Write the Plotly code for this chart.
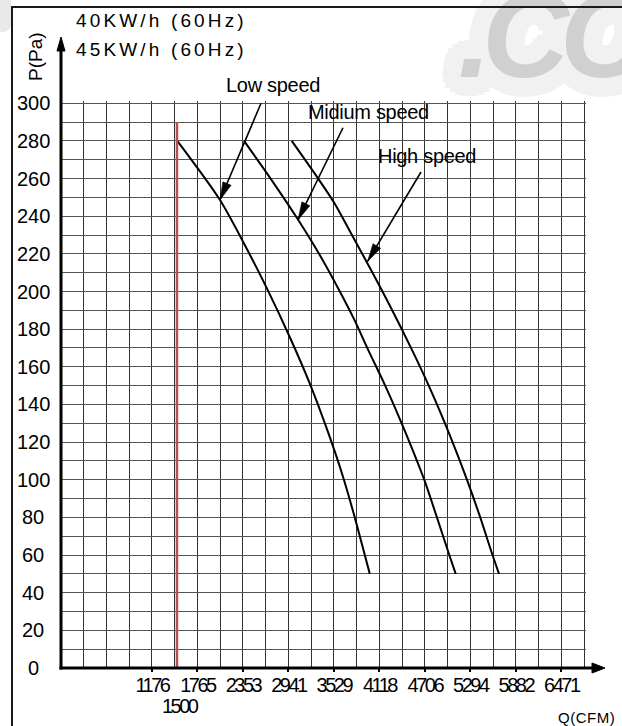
import math
import plotly.graph_objects as go

# ---- fan curves: static pressure P (Pa) against air flow Q (CFM) ----
low_q = [1504, 2056, 2377, 2660, 2964, 3226, 3412, 3557, 3660, 3798, 3929, 3994]
low_p = [280, 248.6, 224.7, 201.9, 175.3, 150.3, 130.1, 113.1, 99.9, 80.2, 60, 50]

mid_q = [2367, 2724, 3069, 3354, 3608, 3795, 3974, 4190, 4406, 4559, 4699, 4859, 5022, 5105]
mid_p = [280, 259.2, 238, 218.9, 199.9, 184.9, 168.9, 150.3, 130, 114.7, 99.9, 80.4, 60, 50]

high_q = [2984, 3324, 3537, 3763, 4029, 4287, 4533, 4753, 4966, 5115, 5251, 5419, 5581, 5665]
high_p = [280, 260.1, 246.9, 230, 210, 189.8, 169.5, 150.3, 130, 114.7, 99.9, 80.4, 60, 50]

# rated air-flow marker
rated_q = 1500
rated_p_top = 290

# axis labels
x_ticks = [1176, 1765, 2353, 2941, 3529, 4118, 4706, 5294, 5882, 6471]
y_ticks = list(range(0, 301, 20))

# curve call-outs (label, arrow tail, arrow tip on the curve)
speed_labels = ["Low speed", "Midium speed", "High speed"]
arrow_tail_q = [2587, 3647, 4656]
arrow_tail_p = [300, 287, 263.5]
arrow_tip_q = [2056, 3065, 3965]
arrow_tip_p = [248.6, 238, 216]

titles = ["40KW/h (60Hz)", "45KW/h (60Hz)"]

# ---- layout geometry -------------------------------------------------
W, H = 622, 726
ML, MR, MT, MB = 61, 36, 101, 58
X_RANGE = [0, 6790]
Y_RANGE = [0, 301.2]
GRID_Q = 5000 / 17          # one grid cell of air flow
PLOT_W = W - ML - MR
PLOT_H = H - MT - MB
SX = PLOT_W / (X_RANGE[1] - X_RANGE[0])
SY = PLOT_H / (Y_RANGE[1] - Y_RANGE[0])


def paper_x(px):
    return (px - ML) / PLOT_W


def paper_y(py):
    return (H - MB - py) / PLOT_H


def rel(px, py):
    """page pixel -> pixel offset from the plot origin (y up)"""
    return px - ML, (H - MB) - py


def tight(text, spacing):
    return f'<span style="letter-spacing:{spacing}px">{text}</span>'


BASE_FONT = "Liberation Sans, Arial, sans-serif"
FRAME = "#1a1a1a"

fig = go.Figure()

curve_line = dict(color="black", width=2, shape="spline", smoothing=0.8)
for q, p in ((low_q, low_p), (mid_q, mid_p), (high_q, high_p)):
    fig.add_trace(go.Scatter(x=q, y=p, mode="lines", line=curve_line,
                             hoverinfo="skip", showlegend=False))

fig.add_trace(go.Scatter(x=[rated_q, rated_q], y=[0, rated_p_top], mode="lines",
                         line=dict(color="#b9504f", width=2.5),
                         hoverinfo="skip", showlegend=False))

shapes = []
annotations = []

# watermark (drawn first, everything else sits above it)
halo = ", ".join(
    f"{r * math.cos(a):.1f}px {r * math.sin(a):.1f}px 0 #f1f1f1"
    for r in (5, 10, 15, 19) for a in [i * math.pi / 10 for i in range(20)]
)
annotations.append(dict(
    x=paper_x(456), y=paper_y(104), xref="paper", yref="paper",
    xanchor="left", yanchor="bottom", showarrow=False,
    text=tight(".CO", -9),
    font=dict(family=BASE_FONT, size=120, color="#d0d0d0",
              weight="bold", style="italic", shadow=halo),
))
shapes.append(dict(type="path", xref="paper", yref="paper",
                   path=f"M {paper_x(0)},{paper_y(0)} L {paper_x(11)},{paper_y(0)} "
                        f"L {paper_x(11)},{paper_y(26)} Q {paper_x(9)},{paper_y(33)} {paper_x(0)},{paper_y(32)} Z",
                   fillcolor="#e9e9e9", line=dict(width=0), layer="below"))

# frame around the chart
shapes.append(dict(type="line", xref="paper", yref="paper",
                   x0=paper_x(12), x1=paper_x(622), y0=paper_y(7), y1=paper_y(7),
                   line=dict(color=FRAME, width=2), layer="above"))
# the part of the top edge crossing the watermark, kept above its text
annotations.append(dict(
    x=paper_x(430), y=paper_y(6), xref="paper", yref="paper",
    xanchor="left", yanchor="top", text=" ", showarrow=False,
    width=192, height=2, bgcolor=FRAME, borderpad=0, borderwidth=0,
    font=dict(size=1),
))
annotations.append(dict(
    x=paper_x(11), y=paper_y(6), xref="paper", yref="paper",
    xanchor="left", yanchor="top", text=" ", showarrow=False,
    width=2, height=722, bgcolor=FRAME, borderpad=0, borderwidth=0,
    font=dict(size=1),
))


# axes with arrow heads, anchored at the plot origin in pixels
def px_shape(path, **kw):
    d = dict(type="path", xref="paper", yref="paper", xanchor=0, yanchor=0,
             xsizemode="pixel", ysizemode="pixel", path=path, layer="above")
    d.update(kw)
    return d


ytip = rel(61, 37)[1]
xtip = rel(605, 668)[0]
shapes.append(px_shape(f"M 0,-1.5 L 0,{ytip - 13}", line=dict(color="black", width=3)))
shapes.append(px_shape(f"M -4,{ytip - 14} L 4,{ytip - 14} L 0,{ytip} Z",
                       fillcolor="black", line=dict(color="black", width=1)))
shapes.append(px_shape(f"M -1.5,0 L {xtip - 12},0", line=dict(color="black", width=3)))
shapes.append(px_shape(f"M {xtip - 13},-5 L {xtip - 13},5 L {xtip},0 Z",
                       fillcolor="black", line=dict(color="black", width=1)))

# call-out arrows
HEAD_LEN, HEAD_HALF = 18, 4.5
for tq, tp, hq, hp in zip(arrow_tail_q, arrow_tail_p, arrow_tip_q, arrow_tip_p):
    shapes.append(dict(type="line", xref="x", yref="y", x0=tq, y0=tp, x1=hq, y1=hp,
                       line=dict(color="black", width=1.6), layer="above"))
    dx, dy = (hq - tq) * SX, (hp - tp) * SY
    n = math.hypot(dx, dy)
    ux, uy = dx / n, dy / n
    bx, by = -ux * HEAD_LEN, -uy * HEAD_LEN
    nx, ny = -uy * HEAD_HALF, ux * HEAD_HALF
    shapes.append(dict(type="path", xref="x", yref="y", xanchor=hq, yanchor=hp,
                       xsizemode="pixel", ysizemode="pixel", layer="above",
                       path=f"M 0,0 L {bx + nx:.2f},{by + ny:.2f} L {bx - nx:.2f},{by - ny:.2f} Z",
                       fillcolor="black", line=dict(color="black", width=0.5)))

# call-out labels
label_pos = [(272.5, 85), (368, 112), (426.5, 156)]
for text, (cx, cy) in zip(speed_labels, label_pos):
    annotations.append(dict(x=paper_x(cx), y=paper_y(cy), xref="paper", yref="paper",
                            text=tight(text, -0.3), showarrow=False,
                            xanchor="center", yanchor="middle",
                            font=dict(family=BASE_FONT, size=20, color="black")))

# y tick labels
for v in y_ticks:
    annotations.append(dict(x=paper_x(33), y=v, xref="paper", yref="y", text=str(v),
                            showarrow=False, xanchor="center", yanchor="middle",
                            font=dict(family=BASE_FONT, size=20, color="black")))

# second-row label under the rated flow line
annotations.append(dict(x=rated_q, y=paper_y(705.5), xref="x", yref="paper", xshift=4,
                        text=tight(str(rated_q), -2.5), showarrow=False,
                        xanchor="center", yanchor="middle",
                        font=dict(family=BASE_FONT, size=20, color="black")))

# titles and axis names
for text, cy in zip(titles, (20, 50)):
    annotations.append(dict(x=paper_x(74), y=paper_y(cy), xref="paper", yref="paper",
                            text=tight(text, 3.15),
                            showarrow=False, xanchor="left", yanchor="middle",
                            font=dict(family=BASE_FONT, size=19, color="black")))

annotations.append(dict(x=paper_x(35), y=paper_y(57), xref="paper", yref="paper",
                        text="P(Pa)", textangle=-90, showarrow=False,
                        xanchor="center", yanchor="middle",
                        font=dict(family=BASE_FONT, size=19, color="black")))
annotations.append(dict(x=paper_x(617), y=paper_y(717), xref="paper", yref="paper",
                        text=tight("Q(CFM)", 0.5),
                        showarrow=False, xanchor="right", yanchor="middle",
                        font=dict(family=BASE_FONT, size=15, color="black")))

fig.update_layout(
    width=W, height=H,
    margin=dict(l=ML, r=MR, t=MT, b=MB, pad=0),
    paper_bgcolor="white", plot_bgcolor="white",
    showlegend=False,
    xaxis=dict(range=X_RANGE, tickmode="array", tickvals=x_ticks,
               ticktext=[tight(str(v), -2.5) for v in x_ticks],
               tickangle=0,
               ticks="outside", ticklen=3, tickwidth=1.5, tickcolor="black",
               ticklabelstandoff=-4,
               tickfont=dict(family=BASE_FONT, size=20, color="black"),
               showgrid=True, gridcolor="#333333", gridwidth=1,
               minor=dict(tick0=0, dtick=GRID_Q, showgrid=True,
                          gridcolor="#333333", gridwidth=1, ticks=""),
               zeroline=False, showline=False, fixedrange=True),
    yaxis=dict(range=Y_RANGE, tick0=0, dtick=10, showticklabels=False, ticks="",
               showgrid=True, gridcolor="#555555", gridwidth=1,
               zeroline=False, showline=False, fixedrange=True),
    shapes=shapes,
    annotations=annotations,
)

fig.write_html("out.html")
